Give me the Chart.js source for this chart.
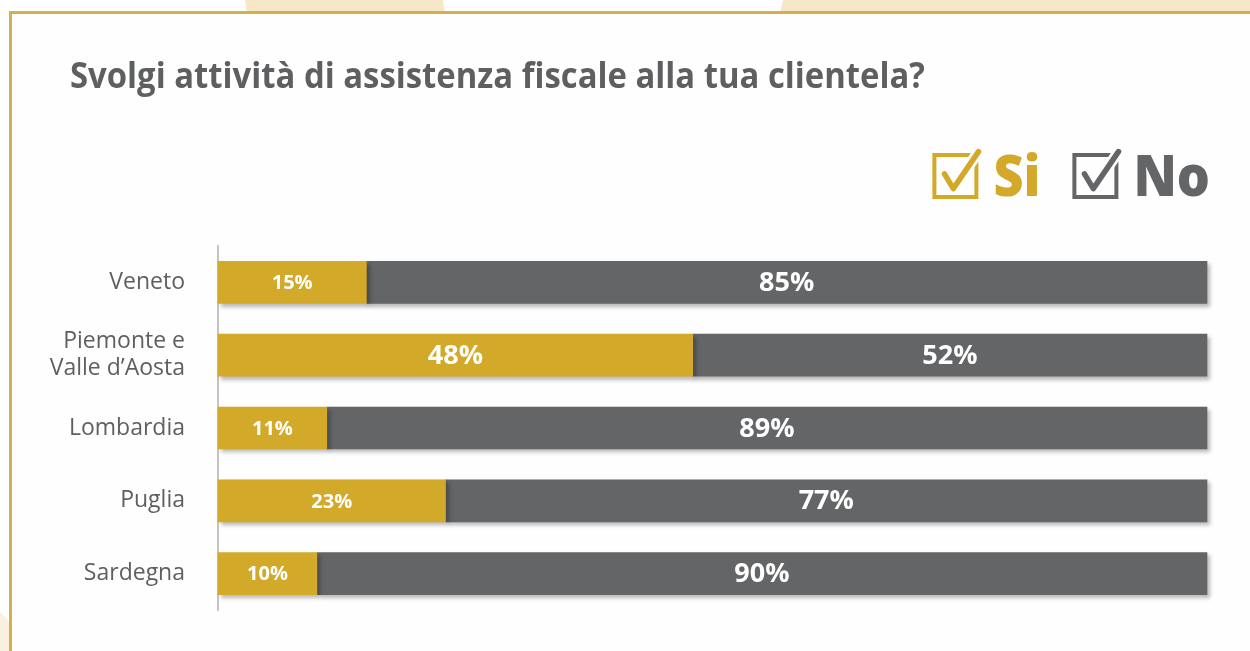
<!DOCTYPE html>
<html lang="it">
<head>
<meta charset="utf-8">
<title>Assistenza fiscale</title>
<script src="https://cdn.jsdelivr.net/npm/chart.js@4"></script>
<style>
  html, body { margin: 0; padding: 0; background: #fff; overflow: hidden; }
  .deco { position: absolute; background: #f5e7c8; }
  .deco1 { left: 246px; top: 0; width: 198px; height: 14px; transform: skewX(8deg); }
  .deco2 { left: 780px; top: -40px; width: 600px; height: 60px; border-radius: 300px 0 0 0; }
  .deco3 { left: -30px; top: 600px; width: 45px; height: 80px; border-radius: 0 60px 0 0; opacity: .6; }
  .card {
    position: absolute; left: 9px; top: 11px; width: 1260px; height: 660px;
    border-left: 3px solid #d4b04a; border-top: 3px solid #d4b04a;
    background: #fefefe; box-sizing: border-box;
  }
  #chart { position: absolute; left: 0; top: 0; }
</style>
</head>
<body>
<div class="deco deco1"></div>
<div class="deco deco2"></div>
<div class="deco deco3"></div>
<div class="card"></div>
<canvas id="chart" width="1250" height="651"></canvas>
<script>
const titolo = 'Svolgi attività di assistenza fiscale alla tua clientela?';
const regioni = ['Veneto', ['Piemonte e', 'Valle d\u2019Aosta'], 'Lombardia', 'Puglia', 'Sardegna'];
const si = [15, 48, 11, 23, 10];
const no = [85, 52, 89, 77, 90];

const ORO = '#d3a929';
const GRIGIO = '#646567';
const TESTO = '#5e5f61';

// soft shadow under the bars
const ombra = {
  id: 'ombra',
  beforeDatasetsDraw(chart) {
    const ctx = chart.ctx;
    ctx.save();
    ctx.shadowColor = 'rgba(0,0,0,0.28)';
    ctx.shadowBlur = 4;
    ctx.shadowOffsetX = 3;
    ctx.shadowOffsetY = 3;
  },
  afterDatasetsDraw(chart) {
    chart.ctx.restore();
  }
};

// percentages written inside each segment
const etichette = {
  id: 'etichette',
  afterDraw(chart) {
    const ctx = chart.ctx;
    ctx.save();
    ctx.fillStyle = '#fff';
    ctx.textAlign = 'center';
    ctx.textBaseline = 'middle';
    chart.data.datasets.forEach((ds, i) => {
      chart.getDatasetMeta(i).data.forEach((bar, j) => {
        const v = ds.data[j];
        const p = bar.getProps(['x', 'y', 'base'], true);
        ctx.font = 'bold ' + (v >= 40 ? 27 : 20) + 'px "Open Sans"';
        ctx.fillText(v + '%', (p.x + p.base) / 2, p.y + 1);
      });
    });
    ctx.restore();
  }
};

// title, left aligned above the plot
const intestazione = {
  id: 'intestazione',
  afterDraw(chart) {
    const ctx = chart.ctx;
    ctx.save();
    ctx.font = 'bold 36px "Open Sans"';
    ctx.fillStyle = TESTO;
    ctx.textBaseline = 'alphabetic';
    const w = ctx.measureText(titolo).width;
    ctx.translate(70, 88);
    ctx.scale(855 / w, 1);
    ctx.fillText(titolo, 0, 0);
    ctx.restore();
  }
};

function casella(ctx, x, y, s, colore) {
  ctx.save();
  ctx.strokeStyle = colore;
  ctx.lineWidth = 4;
  ctx.strokeRect(x, y, s, s);
  const tick = () => {
    ctx.beginPath();
    ctx.moveTo(x + s * 0.24, y + s * 0.45);
    ctx.lineTo(x + s * 0.45, y + s * 0.8);
    ctx.lineTo(x + s * 1.05, y - s * 0.08);
  };
  ctx.lineCap = 'round';
  ctx.lineJoin = 'round';
  ctx.strokeStyle = '#fefefe';
  ctx.lineWidth = 11;
  tick(); ctx.stroke();
  ctx.strokeStyle = colore;
  ctx.lineWidth = 5.5;
  tick(); ctx.stroke();
  ctx.restore();
}

// check-box legend in the top right corner
const legenda = {
  id: 'legenda',
  afterDraw(chart) {
    const ctx = chart.ctx;
    const lato = 42;
    ctx.save();
    ctx.font = '800 56px "Open Sans"';
    ctx.textBaseline = 'alphabetic';
    let x = chart.chartArea.right + 3;
    const sets = chart.data.datasets;
    for (let i = sets.length - 1; i >= 0; i--) {
      const ds = sets[i];
      const w = ctx.measureText(ds.label).width * 0.93;
      x -= w;
      ctx.fillStyle = ds.backgroundColor;
      ctx.save();
      ctx.translate(x, 196);
      ctx.scale(0.93, 1);
      ctx.fillText(ds.label, 0, 0);
      ctx.restore();
      x -= 17 + lato;
      casella(ctx, x, 155, lato, ds.backgroundColor);
      x -= 34;
    }
    ctx.restore();
  }
};

new Chart(document.getElementById('chart'), {
  type: 'bar',
  data: {
    labels: regioni,
    datasets: [
      { label: 'Si', data: si, backgroundColor: ORO, barThickness: 42, clip: 10 },
      { label: 'No', data: no, backgroundColor: GRIGIO, barThickness: 42, clip: 10 }
    ]
  },
  options: {
    indexAxis: 'y',
    responsive: false,
    animation: false,
    layout: { autoPadding: false, padding: { top: 246, left: 20, right: 43, bottom: 41 } },
    plugins: {
      legend: { display: false },
      title: { display: false },
      tooltip: { enabled: false }
    },
    scales: {
      x: { stacked: true, min: 0, max: 100, display: false },
      y: {
        stacked: true,
        grid: { display: false, drawTicks: false },
        border: { display: true, color: '#c4c4c4', width: 2 },
        ticks: {
          padding: 33,
          color: TESTO,
          font: { family: '"Open Sans"', size: 23, weight: 500, lineHeight: 1.18 }
        },
        afterFit(scale) {
          scale.width = 198;
          scale.paddingTop = 0;
          scale.paddingBottom = 0;
        }
      }
    }
  },
  plugins: [ombra, etichette, intestazione, legenda]
});
</script>
</body>
</html>
